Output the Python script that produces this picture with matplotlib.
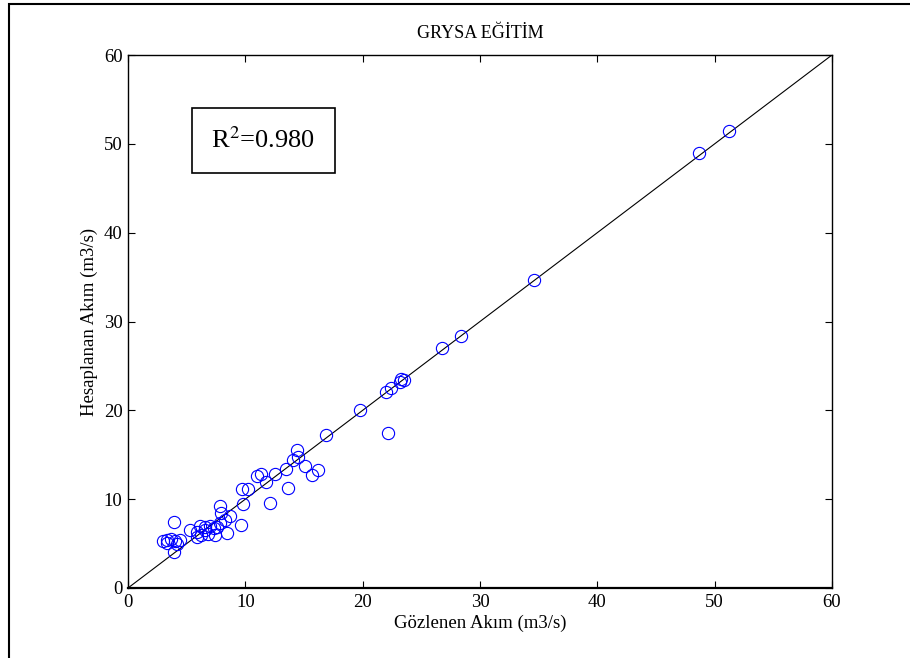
import numpy as np
import matplotlib
matplotlib.use('Agg')
import matplotlib.pyplot as plt
from matplotlib.patches import Rectangle

plt.rcParams['font.family'] = ['Liberation Serif', 'DejaVu Serif']

observed = [51.2, 48.7, 34.6, 28.4, 26.8, 23.2, 23.3, 23.5, 22.4, 22.0,
            22.2, 19.8, 16.9, 14.4, 14.5, 14.1, 15.1, 16.2, 15.7, 13.5,
            12.5, 11.8, 11.3, 11.0, 13.6, 10.2, 9.7, 9.8, 12.1, 7.8,
            7.9, 8.7, 8.3, 9.6, 8.4, 3.9, 5.3, 5.9, 6.1, 6.6,
            7.0, 7.3, 6.8, 7.4, 5.9, 6.6, 7.6, 6.2, 7.8, 3.3,
            3.0, 3.7, 4.0, 4.4, 3.9, 3.3, 4.2]
computed = [51.4, 49.0, 34.7, 28.4, 27.0, 23.2, 23.5, 23.4, 22.5, 22.1,
            17.5, 20.0, 17.2, 15.5, 14.8, 14.4, 13.7, 13.3, 12.7, 13.4,
            12.8, 11.9, 12.8, 12.6, 11.3, 11.1, 11.1, 9.5, 9.6, 9.2,
            8.4, 8.1, 7.7, 7.1, 6.2, 7.4, 6.5, 6.3, 7.0, 6.9,
            7.0, 6.7, 6.1, 6.0, 5.7, 6.5, 6.9, 6.0, 7.3, 5.4,
            5.3, 5.5, 5.3, 5.4, 4.1, 5.1, 5.0]
r2 = 0.980
ticks = [0, 10, 20, 30, 40, 50, 60]

fig = plt.figure(figsize=(9.1, 6.58), dpi=100)
ax = fig.add_axes([128/910, 70/658, 704/910, 533/658])

# outer frame around the figure
fig.patches.append(Rectangle((9/910, -0.2), 1.2, 1.2 - 4/658,
                             transform=fig.transFigure, fill=False,
                             edgecolor='black', linewidth=1.5, clip_on=False))

ax.plot([0, 60], [0, 60], color='black', linewidth=0.8)
ax.plot(observed, computed, 'o', markerfacecolor='none', markeredgecolor='blue',
        markersize=8.8, markeredgewidth=0.8)

ax.set_xlim(0, 60)
ax.set_ylim(0, 60)
ax.set_xticks(ticks)
ax.set_yticks(ticks)
ax.tick_params(direction='in', length=5, width=0.8, top=True, right=True,
               labelsize=13.5, pad=4)
for s in ax.spines.values():
    s.set_linewidth(1.0)
ax.spines['bottom'].set_linewidth(1.6)

ax.set_title('GRYSA EĞİTİM', fontsize=13, pad=12)
ax.set_xlabel('Gözlenen Akım (m3/s)', fontsize=13.5, labelpad=3)
ax.set_ylabel('Hesaplanan Akım (m3/s)', fontsize=13.5, labelpad=4)

ax.text(0.192, 0.840, 'R$^2$=%.3f' % r2, transform=ax.transAxes, fontsize=19,
        ha='center', va='center', math_fontfamily='stix',
        bbox=dict(boxstyle='square,pad=0.75', facecolor='white',
                  edgecolor='black', linewidth=1.2))

fig.savefig('out.png', dpi=100)
